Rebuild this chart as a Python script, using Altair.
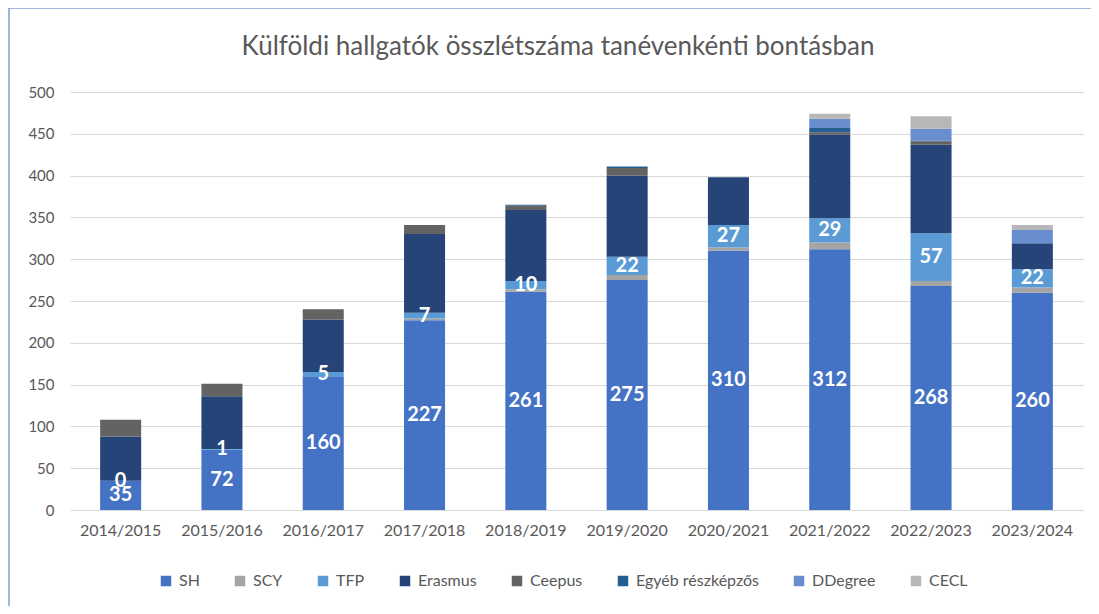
import altair as alt
import pandas as pd

title_text = "Külföldi hallgatók összlétszáma tanévenkénti bontásban"
years = ["2014/2015", "2015/2016", "2016/2017", "2017/2018", "2018/2019",
         "2019/2020", "2020/2021", "2021/2022", "2022/2023", "2023/2024"]
series = ["SH", "SCY", "TFP", "Erasmus", "Ceepus", "Egyéb részképzős", "DDegree", "CECL"]
colors = ["#4472C4", "#A5A5A5", "#5B9BD5", "#264478", "#636363", "#255E91", "#698ED0", "#B7B7B7"]

SH = [35, 72, 160, 227, 261, 275, 310, 312, 268, 260]
SCY = [0, 0, 0, 2, 3, 6, 4, 8, 6, 6]
TFP = [0, 1, 5, 7, 10, 22, 27, 29, 57, 22]
Erasmus = [53, 63, 63, 94, 85, 97, 57, 100, 106, 31]
Ceepus = [20, 15, 12, 11, 5, 9, 0, 3, 4, 0]
Egyeb = [0, 0, 0, 0, 1, 2, 0, 5, 1, 0]
DDegree = [0, 0, 0, 0, 0, 0, 0, 11, 14, 16]
CECL = [0, 0, 0, 0, 0, 0, 0, 6, 15, 6]
labeled = ["SH", "TFP"]

values = [SH, SCY, TFP, Erasmus, Ceepus, Egyeb, DDegree, CECL]
rows = []
for i, y in enumerate(years):
    base = 0
    for k, (name, vals) in enumerate(zip(series, values)):
        v = vals[i]
        rows.append({"year": y, "series": name, "order": k, "value": v,
                     "start": base, "end": base + v, "mid": base + v / 2,
                     "label": str(v) if name in labeled else ""})
        base += v
df = pd.DataFrame(rows)

FONT = "Lato"
GREY = "#595959"

x_enc = alt.X("year:N", sort=years, title=None,
              scale=alt.Scale(paddingInner=0.595, paddingOuter=0.2975),
              axis=alt.Axis(labelAngle=0, labelFontSize=16, labelColor=GREY, labelFont=FONT,
                            ticks=False, labelPadding=12, domainColor="#D9D9D9", grid=False))

bars = alt.Chart(df).mark_bar().encode(
    x=x_enc,
    y=alt.Y("start:Q", title=None,
            scale=alt.Scale(domain=[0, 500], nice=False),
            axis=alt.Axis(values=list(range(0, 501, 50)), labelFontSize=15, labelColor=GREY,
                          labelFont=FONT, ticks=False, domain=False, labelPadding=16,
                          gridColor="#D9D9D9", gridWidth=1)),
    y2="end:Q",
    color=alt.Color("series:N", sort=series,
                    scale=alt.Scale(domain=series, range=colors),
                    legend=alt.Legend(title=None, orient="none", direction="horizontal",
                                      legendX=88, legendY=481, symbolType="square",
                                      symbolSize=110, symbolStrokeWidth=0, labelFontSize=16,
                                      labelColor=GREY, labelFont=FONT, columnPadding=32,
                                      labelOffset=5)),
    order=alt.Order("order:Q"),
)

texts = alt.Chart(df[df["label"] != ""]).mark_text(
    color="white", fontWeight="bold", fontSize=20, font=FONT, baseline="middle"
).encode(
    x=alt.X("year:N", sort=years),
    y=alt.Y("mid:Q"),
    text="label:N",
)

one = pd.DataFrame({"t": [title_text]})
title = alt.Chart(one).mark_text(
    fontSize=26, color=GREY, font=FONT, align="center", baseline="alphabetic"
).encode(x=alt.value(488), y=alt.value(-37), text="t:N")

border = alt.Chart(one).mark_rule(color="#7F9FD5", strokeWidth=1.5).encode(
    x=alt.value(-61), x2=alt.value(1027), y=alt.value(-84)
)
border_left = alt.Chart(one).mark_rule(color="#7F9FD5", strokeWidth=1.5).encode(
    x=alt.value(-61), y=alt.value(-84), y2=alt.value(520)
)

chart = alt.layer(bars, texts, title, border, border_left).properties(
    width=1013, height=418,
    autosize=alt.AutoSizeParams(type="none"),
    padding={"left": 62, "top": 84, "right": 8, "bottom": 96},
).configure_view(stroke=None)

chart.save("out.html", embed_options={"renderer": "svg", "actions": False})
